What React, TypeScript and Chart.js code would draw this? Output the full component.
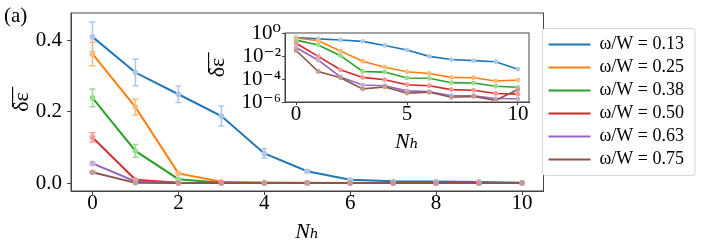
import React, { useEffect, useRef } from 'react';
import { Chart, registerables } from 'chart.js';

Chart.register(...registerables);

// ---------- data ----------
const nh = [0, 1, 2, 3, 4, 5, 6, 7, 8, 9, 10];
const seriesLabels = ['ω/W = 0.13', 'ω/W = 0.25', 'ω/W = 0.38', 'ω/W = 0.50', 'ω/W = 0.63', 'ω/W = 0.75'];

const vals013 = [0.41, 0.31, 0.249, 0.188, 0.083, 0.033, 0.0093, 0.0049, 0.004, 0.0032, 0.00072];
const vals025 = [0.362, 0.213, 0.027, 0.0035, 0.00107, 0.00043, 0.0003, 0.000138, 0.000129, 0.000068, 0.000081];
const vals038 = [0.239, 0.09, 0.0107, 0.00045, 0.0004, 0.000123, 0.000115, 0.000048, 0.000045, 0.0000234, 0.000019];
const vals050 = [0.128, 0.0093, 0.00063, 0.000138, 0.000087, 0.000032, 0.000026, 0.000012, 0.0000105, 0.0000055, 0.0000048];
const vals063 = [0.055, 0.0043, 0.00015, 0.00003, 0.000026, 0.0000093, 0.0000081, 0.0000035, 0.0000035, 0.000002, 0.0000019];
const vals075 = [0.03, 0.00045, 0.00013, 0.0000138, 0.0000204, 0.0000059, 0.000007, 0.0000026, 0.000003, 0.0000014, 0.000012];

const err013 = [0.042, 0.037, 0.023, 0.028, 0.013, 0.004, 0.002, 0, 0, 0, 0];
const err025 = [0.033, 0.022, 0.003, 0, 0, 0, 0, 0, 0, 0, 0];
const err038 = [0.025, 0.018, 0.002, 0, 0, 0, 0, 0, 0, 0, 0];
const err050 = [0.013, 0.002, 0, 0, 0, 0, 0, 0, 0, 0, 0];
const err063 = [0.004, 0, 0, 0, 0, 0, 0, 0, 0, 0, 0];
const err075 = [0.002, 0, 0, 0, 0, 0, 0, 0, 0, 0, 0];

const allVals = [vals013, vals025, vals038, vals050, vals063, vals075];
const allErrs = [err013, err025, err038, err050, err063, err075];

const lineColors = ['#1f77b4', '#ff7f0e', '#2ca02c', '#d62728', '#9467bd', '#8c564b'];
const markerColors = ['#aec7e8', '#ffbb78', '#98df8a', '#ff9896', '#c5b0d5', '#c49c94'];

const mainXTicks = [0, 2, 4, 6, 8, 10];
const mainYTicks = [0, 0.2, 0.4];
const insetXTicks = [0, 5, 10];
const insetYTicks = [1e-6, 1e-4, 1e-2, 1];
const insetYTickLabels = ['10⁻⁶', '10⁻⁴', '10⁻²', '10⁰'];

const panelLabel = '(a)';
const xTitle = 'Nₕ';
const yTitle = 'δ̅ε̅';

// ---------- styles ----------
const FONT = "'Liberation Serif', 'DejaVu Serif', serif";
const SPINE = '#444';

function buildDatasets(withErrors: boolean, lineWidth: number, radius: number) {
  return allVals.map((vals, i) => ({
    label: seriesLabels[i],
    data: nh.map((n, j) => ({ x: n, y: vals[j] })),
    errors: withErrors ? allErrs[i] : null,
    borderColor: lineColors[i],
    backgroundColor: lineColors[i],
    borderWidth: lineWidth,
    pointRadius: radius,
    pointHoverRadius: radius,
    pointBackgroundColor: markerColors[i],
    pointBorderColor: markerColors[i],
    pointBorderWidth: 0,
    tension: 0,
    order: allVals.length - i,
  }));
}

const errorBarPlugin = {
  id: 'errorBars',
  afterDatasetDraw(chart: any, args: any) {
    const ds = chart.data.datasets[args.index];
    if (!ds.errors) return;
    const xs = chart.scales.x;
    const ys = chart.scales.y;
    const ctx = chart.ctx;
    const area = chart.chartArea;
    ctx.save();
    ctx.beginPath();
    ctx.rect(area.left, area.top, area.right - area.left, area.bottom - area.top);
    ctx.clip();
    ctx.strokeStyle = ds.pointBackgroundColor;
    ctx.lineWidth = 1.5;
    ds.data.forEach((p: any, i: number) => {
      const e = ds.errors[i];
      if (!e) return;
      const px = xs.getPixelForValue(p.x);
      const y1 = ys.getPixelForValue(p.y - e);
      const y2 = ys.getPixelForValue(p.y + e);
      ctx.beginPath();
      ctx.moveTo(px, y1);
      ctx.lineTo(px, y2);
      ctx.moveTo(px - 3, y1);
      ctx.lineTo(px + 3, y1);
      ctx.moveTo(px - 3, y2);
      ctx.lineTo(px + 3, y2);
      ctx.stroke();
    });
    ctx.restore();
  },
};

const mainFramePlugin = {
  id: 'mainFrame',
  beforeDraw(chart: any) {
    const ctx = chart.ctx;
    const a = chart.chartArea;
    ctx.save();
    ctx.strokeStyle = SPINE;
    ctx.lineWidth = 1;
    ctx.strokeRect(a.left, a.top, a.right - a.left, a.bottom - a.top);
    // panel label
    ctx.fillStyle = '#000';
    ctx.font = `21px ${FONT}`;
    ctx.textBaseline = 'middle';
    ctx.textAlign = 'left';
    ctx.fillText(panelLabel, 4, 16);
    // legend frame
    const lg = chart.legend;
    if (lg && lg.legendHitBoxes && lg.legendHitBoxes.length) {
      const hb = lg.legendHitBoxes;
      const left = hb[0].left - 6;
      let right = 0;
      hb.forEach((h: any) => { right = Math.max(right, h.left + h.width); });
      right += 11;
      const top = hb[0].top - 7;
      const bottom = hb[hb.length - 1].top + hb[hb.length - 1].height + 7;
      const r = 3;
      ctx.beginPath();
      ctx.moveTo(left + r, top);
      ctx.arcTo(right, top, right, bottom, r);
      ctx.arcTo(right, bottom, left, bottom, r);
      ctx.arcTo(left, bottom, left, top, r);
      ctx.arcTo(left, top, right, top, r);
      ctx.closePath();
      ctx.fillStyle = '#fff';
      ctx.fill();
      ctx.strokeStyle = '#d6d6d6';
      ctx.stroke();
    }
    ctx.restore();
  },
};

const insetFramePlugin = {
  id: 'insetFrame',
  beforeDraw(chart: any) {
    const ctx = chart.ctx;
    const a = chart.chartArea;
    ctx.save();
    ctx.fillStyle = '#fff';
    ctx.fillRect(a.left, a.top, a.right - a.left, a.bottom - a.top);
    ctx.strokeStyle = SPINE;
    ctx.lineWidth = 1;
    ctx.strokeRect(a.left, a.top, a.right - a.left, a.bottom - a.top);
    ctx.restore();
  },
};

const gridOpts = { display: true, drawOnChartArea: false, drawTicks: true, tickLength: 4, color: SPINE, lineWidth: 1 };
const borderOpts = { display: true, color: SPINE, width: 1 };

const fitX = (h: number) => (s: any) => { s.height = h; s.paddingLeft = 0; s.paddingRight = 0; };
const fitY = (w: number) => (s: any) => { s.width = w; s.paddingTop = 0; s.paddingBottom = 0; };

function MainChart() {
  const ref = useRef<HTMLCanvasElement | null>(null);
  useEffect(() => {
    if (!ref.current) return;
    const chart = new Chart(ref.current, {
      type: 'line',
      data: { datasets: buildDatasets(true, 2, 2.8) as any },
      options: {
        responsive: false,
        animation: false,
        devicePixelRatio: 1,
        layout: { padding: { left: 0, top: 13, right: 12, bottom: 0 } },
        scales: {
          x: {
            type: 'linear',
            min: -0.5,
            max: 10.5,
            afterBuildTicks: (s: any) => { s.ticks = mainXTicks.map((v) => ({ value: v })); },
            afterFit: fitX(54),
            ticks: { font: { family: FONT, size: 21 }, color: '#000', padding: -4, maxRotation: 0, autoSkip: false, callback: (v: any) => String(v) },
            grid: gridOpts,
            border: borderOpts,
            title: { display: true, text: xTitle, font: { family: FONT, size: 22, style: 'italic' }, color: '#000', padding: { top: 0, bottom: 0 } },
          },
          y: {
            type: 'linear',
            min: -0.0224,
            max: 0.477,
            afterBuildTicks: (s: any) => { s.ticks = mainYTicks.map((v) => ({ value: v })); },
            afterFit: fitY(71),
            ticks: { font: { family: FONT, size: 21 }, color: '#000', padding: 5, callback: (v: any) => Number(v).toFixed(1) },
            grid: gridOpts,
            border: borderOpts,
            title: { display: true, text: yTitle, font: { family: FONT, size: 22 }, color: '#000', padding: { top: 9, bottom: 0 } },
          },
        },
        plugins: {
          legend: {
            display: true,
            position: 'right',
            align: 'center',
            fullSize: false,
            labels: {
              usePointStyle: true,
              pointStyle: 'line',
              pointStyleWidth: 42,
              font: { family: FONT, size: 18 },
              color: '#000',
              padding: 5,
              sort: (a: any, b: any) => a.datasetIndex - b.datasetIndex,
              generateLabels: (c: any) =>
                Chart.defaults.plugins.legend.labels.generateLabels(c).map((it: any) => ({
                  ...it,
                  lineWidth: 2,
                  strokeStyle: lineColors[it.datasetIndex],
                  fillStyle: lineColors[it.datasetIndex],
                  pointStyle: 'line',
                })),
            },
          },
          tooltip: { enabled: false },
        },
      } as any,
      plugins: [mainFramePlugin, errorBarPlugin],
    });
    return () => chart.destroy();
  }, []);
  return <canvas ref={ref} width={706} height={245} style={{ position: 'absolute', left: 0, top: 0, width: 706, height: 245 }} />;
}

function InsetChart() {
  const ref = useRef<HTMLCanvasElement | null>(null);
  useEffect(() => {
    if (!ref.current) return;
    const chart = new Chart(ref.current, {
      type: 'line',
      data: { datasets: buildDatasets(false, 1.6, 2.4) as any },
      options: {
        responsive: false,
        animation: false,
        devicePixelRatio: 1,
        layout: { padding: { left: 0, top: 17, right: 6, bottom: 0 } },
        scales: {
          x: {
            type: 'linear',
            min: -0.5,
            max: 10.5,
            afterBuildTicks: (s: any) => { s.ticks = insetXTicks.map((v) => ({ value: v })); },
            afterFit: fitX(54),
            ticks: { font: { family: FONT, size: 21 }, color: '#000', padding: -3, maxRotation: 0, autoSkip: false, callback: (v: any) => String(v) },
            grid: { ...gridOpts, tickLength: 3 },
            border: borderOpts,
            title: { display: true, text: xTitle, font: { family: FONT, size: 22, style: 'italic' }, color: '#000', padding: { top: 0, bottom: 1 } },
          },
          y: {
            type: 'logarithmic',
            min: 1e-6,
            max: 1,
            afterBuildTicks: (s: any) => { s.ticks = insetYTicks.map((v) => ({ value: v })); },
            afterFit: fitY(80),
            ticks: {
              font: { family: FONT, size: 21 },
              color: '#000',
              padding: 1,
              autoSkip: false,
              callback: (v: any) => {
                const k = insetYTicks.findIndex((t) => Math.abs(Math.log10(t) - Math.log10(v)) < 1e-6);
                return k >= 0 ? insetYTickLabels[k] : '';
              },
            },
            grid: { ...gridOpts, tickLength: 3 },
            border: borderOpts,
            title: { display: true, text: yTitle, font: { family: FONT, size: 22 }, color: '#000', padding: { top: 0, bottom: 0 } },
          },
        },
        plugins: {
          legend: { display: false },
          tooltip: { enabled: false },
        },
      } as any,
      plugins: [insetFramePlugin],
    });
    return () => chart.destroy();
  }, []);
  return <canvas ref={ref} width={330} height={140} style={{ position: 'absolute', left: 205, top: 16, width: 330, height: 140 }} />;
}

export default function App() {
  return (
    <div style={{ position: 'absolute', left: 0, top: 0, width: 706, height: 245, background: '#fff', overflow: 'hidden' }}>
      <MainChart />
      <InsetChart />
    </div>
  );
}
